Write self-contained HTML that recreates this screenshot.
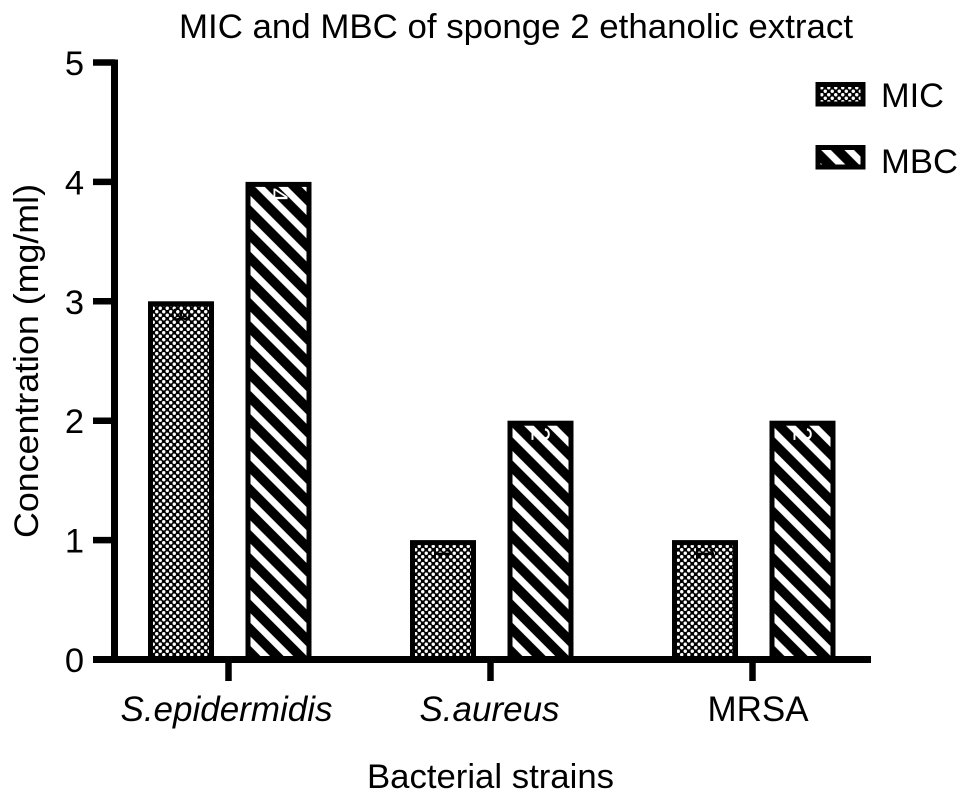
<!DOCTYPE html>
<html>
<head>
<meta charset="utf-8">
<title>MIC and MBC of sponge 2 ethanolic extract</title>
<style>
html,body{margin:0;padding:0;background:#fff;width:969px;height:800px;overflow:hidden}
svg{display:block;font-family:"Liberation Sans",Arial,sans-serif;fill:#000}
</style>
</head>
<body>
<svg id="chart" xmlns="http://www.w3.org/2000/svg" width="969" height="800" viewBox="0 0 969 800">
<defs id="defs">
<pattern id="pat-mic" patternUnits="userSpaceOnUse" width="7" height="7" x="1" y="2">
<rect width="7" height="7" fill="#000"/>
<circle cx="1.75" cy="1.75" r="1.7" fill="#fff"/>
<circle cx="5.25" cy="5.25" r="1.7" fill="#fff"/>
</pattern>
<pattern id="pat-mbc-legend" patternUnits="userSpaceOnUse" width="16.4" height="16.4" patternTransform="translate(833 157) rotate(45)">
<rect width="16.4" height="16.4" fill="#000"/>
<rect width="16.4" height="3.4" fill="#fff"/>
<rect y="13" width="16.4" height="3.4" fill="#fff"/>
</pattern>
</defs>
<text x="516" y="38" font-size="34" text-anchor="middle" textLength="674" lengthAdjust="spacingAndGlyphs">MIC and MBC of sponge 2 ethanolic extract</text>
<text transform="translate(38 361) rotate(-90)" font-size="34" text-anchor="middle" textLength="354" lengthAdjust="spacingAndGlyphs">Concentration (mg/ml)</text>
<text x="490.500" y="788" font-size="34" text-anchor="middle" textLength="247" lengthAdjust="spacingAndGlyphs">Bacterial strains</text>
<g id="bars"></g>
<g id="axes"></g>
<g>
<g>
<rect x="818" y="84.500" width="45" height="19.500" fill="url(#pat-mic)" stroke="#000" stroke-width="5"/>
<text x="881" y="107" font-size="34.500" textLength="63" lengthAdjust="spacingAndGlyphs">MIC</text>
</g>
<g>
<rect x="818" y="147.500" width="45" height="19.500" fill="url(#pat-mbc-legend)" stroke="#000" stroke-width="5"/>
<text x="881" y="173" font-size="34.500" textLength="77" lengthAdjust="spacingAndGlyphs">MBC</text>
</g>
</g>
</svg>
<script>
const categories = ["S.epidermidis", "S.aureus", "MRSA"];
const categoryItalic = [true, true, false];
const micValues = [3, 1, 1];
const mbcValues = [4, 2, 2];
const yTicks = [0, 1, 2, 3, 4, 5];

const NS = "http://www.w3.org/2000/svg";
const defs = document.getElementById("defs");
const barsGroup = document.getElementById("bars");
const axesGroup = document.getElementById("axes");

function yScale(v) { return 659.5 - v * 119.4; }
function xCenter(i) { return 228.5 + i * 262; }

function make(tag, attrs, parent, text) {
  const el = document.createElementNS(NS, tag);
  for (const k in attrs) el.setAttribute(k, attrs[k]);
  if (text !== undefined) el.textContent = text;
  parent.appendChild(el);
  return el;
}

/* Each striped bar restarts its hatch from its own bottom-left corner. */
function stripePattern(id, cx) {
  const p = make("pattern", {
    id: id,
    patternUnits: "userSpaceOnUse",
    width: 16.4,
    height: 16.4,
    patternTransform: "translate(" + (cx - 33) + " " + yScale(0) + ") rotate(45)"
  }, defs);
  make("rect", {width: 16.4, height: 16.4, fill: "#000"}, p);
  make("rect", {width: 16.4, height: 3.4, fill: "#fff"}, p);
  make("rect", {y: 13, width: 16.4, height: 3.4, fill: "#fff"}, p);
  return "url(#" + id + ")";
}

function drawBar(i, value, offset, series) {
  const top = yScale(value);
  const cx = xCenter(i) + offset;
  const fill = series === "MBC" ? stripePattern("pat-mbc-" + i, cx) : "url(#pat-mic)";
  const bar = make("rect", {x: cx - 30.5, y: top + 2.5, width: 61, height: yScale(0) - top - 2.5, fill: fill, stroke: "#000", "stroke-width": 5}, barsGroup);
  
  
  bar.setAttribute('aria-label', series + ' ' + categories[i]);
  const label = make("text", {
    transform: "translate(" + (cx - 9) + " " + (top + 6) + ") rotate(90)",
    "font-size": 26,
    fill: series === "MBC" ? "#fff" : "#000"
  }, barsGroup, String(value));
  
  
}

categories.forEach(function (name, i) {
  drawBar(i, micValues[i], -47.5, "MIC");
  drawBar(i, mbcValues[i], 50, "MBC");

  const tick = make("line", {x1: xCenter(i), x2: xCenter(i), y1: 660, y2: 681, stroke: "#000", "stroke-width": 6.5}, axesGroup);
  
  

  const label = make("text", {
    x: xCenter(i) - 2 + (i === 1 ? 1 : 0) + (i === 2 ? 7.5 : 0),
    y: 721,
    "font-size": 35,
    "text-anchor": "middle",
    "font-style": categoryItalic[i] ? "italic" : "normal"
  }, axesGroup, name);
  
  
});

yTicks.forEach(function (t) {
  const tick = make("line", {x1: 93, x2: 115, y1: yScale(t), y2: yScale(t), stroke: "#000", "stroke-width": 6.5}, axesGroup);
  
  

  const label = make("text", {x: 84, y: yScale(t) + 12.5, "font-size": 34.5, "text-anchor": "end"}, axesGroup, String(t));
  
  
});

const yAxis = make("line", {x1: 114.5, x2: 114.5, y1: yScale(5) - 3, y2: yScale(0) + 3, stroke: "#000", "stroke-width": 7}, axesGroup);



const xAxis = make("line", {x1: 93, x2: 871, y1: yScale(0), y2: yScale(0), stroke: "#000", "stroke-width": 7}, axesGroup);


</script>
</body>
</html>
